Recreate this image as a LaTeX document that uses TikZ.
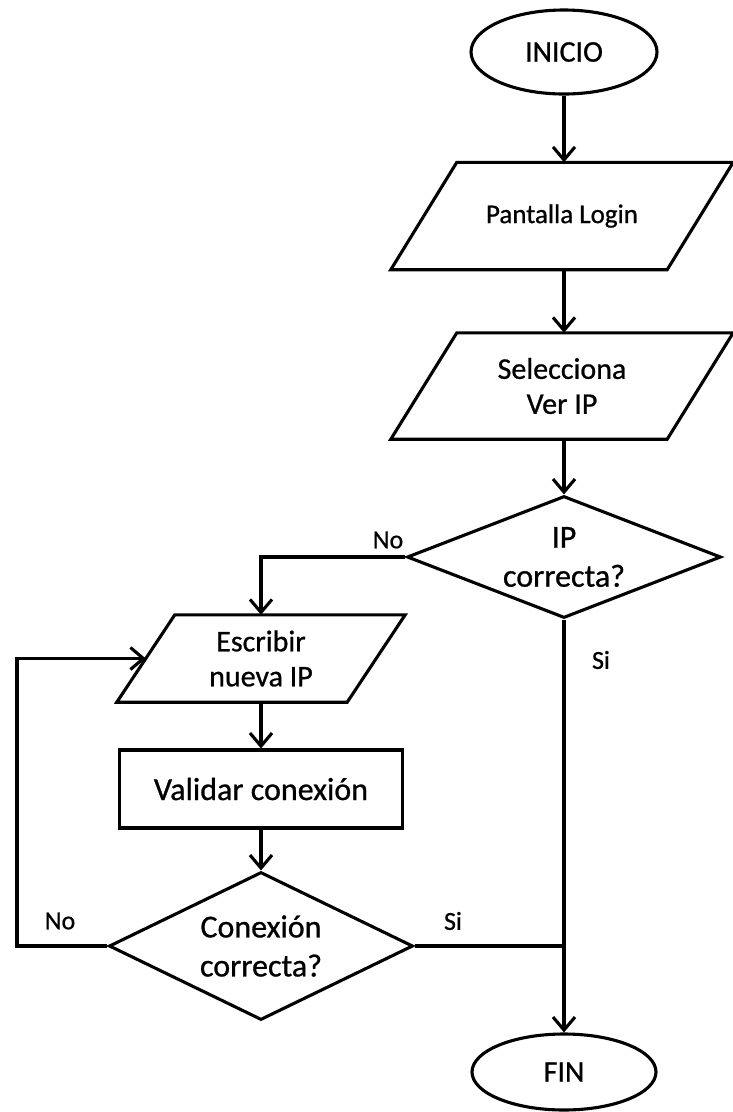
\documentclass[tikz,border=0pt]{standalone}
\usepackage{fontspec}
\setmainfont{Carlito}[FakeBold=0.8,AutoFakeBold=0.8]
\usetikzlibrary{shapes.geometric,arrows.meta}
% slanted input/output frame around a named rectangle node (#2 = half the slant)
\newcommand\ioframe[2]{%
  \draw[outline] ([xshift=#2]#1.north west) -- ([xshift=#2]#1.north east)
    -- ([xshift=-#2]#1.south east) -- ([xshift=-#2]#1.south west) -- cycle;}
\begin{document}
\begin{tikzpicture}[x=1pt,y=-1pt,
  outline/.style={line width=3.1pt, line join=miter},
  base/.style={outline, draw, fill=white, inner sep=0pt, align=center, text=black},
  terminal/.style={base, ellipse, font=\fontsize{30}{36}\selectfont},
  io/.style={inner sep=0pt, align=center, text=black, rectangle},
  proc/.style={base, rectangle},
  decision/.style={base, diamond},
  mid/.style={font=\fontsize{30}{35}\selectfont},
  big/.style={font=\fontsize{32}{39}\selectfont},
  lbl/.style={inner sep=0pt, text=black, font=\fontsize{26}{30}\selectfont},
  flow/.style={line width=3.1pt, -{Straight Barb[length=13pt,width=22pt]}},
  link/.style={line width=3.1pt}
]
\useasboundingbox (0,0) rectangle (732,1112);

% main column
\node[terminal, minimum width=186pt, minimum height=84pt] (inicio) at (564,52) {INICIO};
\node[io, minimum width=276pt, minimum height=107pt, font=\fontsize{27}{32}\selectfont] (login) at (562,216) {Pantalla Login};
\ioframe{login}{33pt}
\node[io, mid, minimum width=276pt, minimum height=106pt] (sel) at (562,386) {Selecciona\\Ver IP};
\ioframe{sel}{33pt}
\node[decision, big, minimum width=314pt, minimum height=122pt, aspect=2.6] (ip) at (564,557) {IP\\correcta?};

% retry column
\node[io, mid, minimum width=230pt, minimum height=87pt] (esc) at (261,658.5) {Escribir\\nueva IP};
\ioframe{esc}{29pt}
\node[proc, big, minimum width=283pt, minimum height=78pt] (val) at (261,789) {Validar conexión};
\node[decision, big, minimum width=304pt, minimum height=148pt, aspect=2.05] (con) at (261,946) {Conexión\\correcta?};

\node[terminal, minimum width=184pt, minimum height=76pt] (fin) at (564,1072) {FIN};

% connectors
\draw[flow] (inicio) -- (inicio |- login.north);
\draw[flow] (login.south -| inicio) -- (inicio |- sel.north);
\draw[flow] (sel.south -| inicio) -- (ip);
\draw[flow] (ip.west) -| (esc.north);
\draw[flow] (esc) -- (val);
\draw[flow] (val) -- (con);
\coordinate (back) at (17,946);
\draw[flow] (con.west) -- (back) |- (esc.west);
\draw[flow] (ip.south) -- (fin.north);
\draw[link] (con.east) -- (con.east -| fin.north);

% branch labels
\node[lbl] (noip) at (388,540) {No};
\node[lbl] (siip) at (601,660) {Si};
\node[lbl] (nocon) at (60,921) {No};
\node[lbl] (sicon) at (453,921) {Si};
\end{tikzpicture}
\end{document}
